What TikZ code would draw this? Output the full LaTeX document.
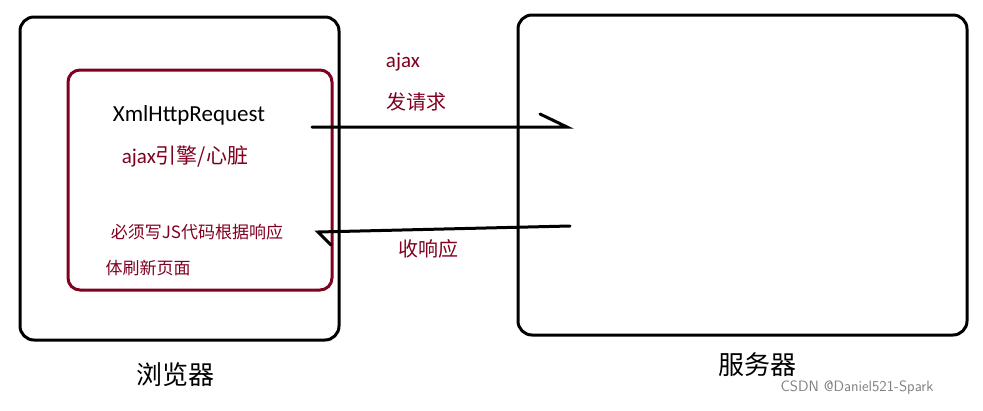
\documentclass[tikz,border=0pt]{standalone}
\usepackage{fontspec}
\setmainfont{Carlito}
\newfontfamily\cjk{Noto Sans CJK SC}
\definecolor{dred}{RGB}{128,0,32}
\begin{document}
\begin{tikzpicture}[x=1pt,y=-1pt,
  box/.style={draw=black,line width=3pt,rounded corners=14pt},
  rbox/.style={draw=dred,line width=3pt,rounded corners=12pt},
  conn/.style={line width=3pt,line cap=round},
  rt/.style={text=dred,inner sep=0pt},
  bt/.style={text=black,inner sep=0pt}]
\useasboundingbox (0,0) rectangle (983,410);
\draw[box] (20,17) rectangle (339,340);
\draw[rbox] (68,70) rectangle (332,290);
\draw[box] (518,15) rectangle (967,335);
\coordinate (a1) at (312,127);
\coordinate (a2) at (567,127);
\coordinate (a3) at (540,114);
\coordinate (b1) at (570,226);
\coordinate (b2) at (318,232);
\coordinate (b3) at (331,245);
\draw[conn] (a1) -- (a2) -- (a3);
\draw[conn] (b1) -- (b2) -- (b3);
\node[bt,font=\fontsize{23}{26}\selectfont] (x) at (189,115) {XmlHttpRequest};
\node[rt,font=\fontsize{21}{24}\selectfont] (e) at (185,157) {ajax\cjk{引擎}/\cjk{心脏}};
\node[rt,font=\fontsize{17}{20}\selectfont] (m1) at (197,232) {\cjk{必须写}JS\cjk{代码根据响应}};
\node[rt,font=\fontsize{17}{20}\selectfont] (m2) at (148,268) {\cjk{体刷新页面}};
\node[rt,font=\fontsize{21}{24}\selectfont] (aj) at (403,62) {ajax};
\node[rt,font=\fontsize{20}{24}\selectfont\cjk] (fq) at (416,102) {发请求};
\node[rt,font=\fontsize{20}{24}\selectfont\cjk] (sx) at (428,249) {收响应};
\node[bt,font=\fontsize{26}{30}\selectfont\cjk] (ll) at (175,375) {浏览器};
\node[bt,font=\fontsize{26}{30}\selectfont\cjk] (fw) at (757,365) {服务器};
\node[text=gray,inner sep=0pt,font=\fontsize{15}{18}\selectfont\sffamily] (wm) at (857,388) {CSDN @Daniel521-Spark};
\end{tikzpicture}
\end{document}
